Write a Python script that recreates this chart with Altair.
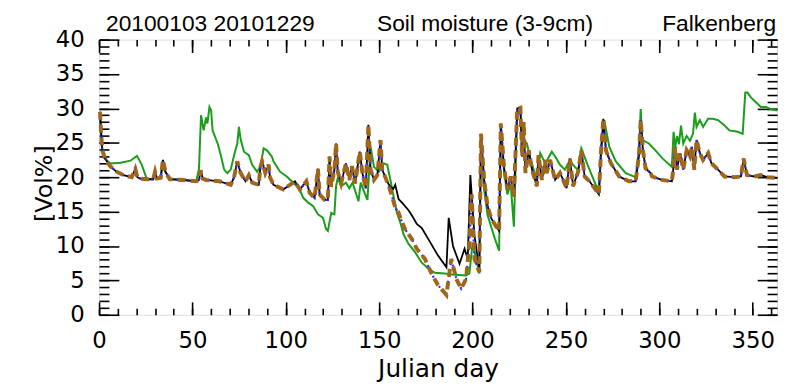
import altair as alt
import pandas as pd

# ---- data ----
common_pre_day = [0.5, 1, 1.7, 3, 4.4, 6, 8, 10, 13, 17.5, 19.4, 20.5, 22, 25.5, 29, 30, 31, 33, 34.2, 35.5,
                  37.9, 45, 52, 53.5, 54.4, 55.5, 57.3, 64.4, 70.5, 72.3, 74, 75.8, 78.4, 80.2, 82, 85.5, 86.4,
                  87.3, 89, 90.8, 91.5, 93.4, 98.7, 102.2, 104.9, 107.5, 111, 112.8, 115.4, 117.2, 118.1, 120.7,
                  122.5, 123.4, 124.3, 126, 126.9, 127.8, 129.6, 132.2, 134, 135.4, 137.1, 139.6, 141, 142.8,
                  144.2, 145.4, 147.2, 149, 150.7, 151.6, 153.4]
common_pre_val = [29.5, 27, 24, 22.8, 22.2, 21.6, 21.1, 20.7, 20.3, 20.0, 21.2, 20.0, 19.8, 19.7, 19.7, 20.8, 19.8,
                  19.9, 22.5, 20.8, 19.7, 19.6, 19.4, 19.6, 21.0, 19.8, 19.6, 19.4, 18.9, 20.0, 22.3, 20.6, 19.4,
                  20.3, 19.2, 18.9, 21.5, 22.3, 20.6, 21.8, 20.0, 18.9, 18.2, 18.9, 19.4, 18.2, 19.4, 17.7, 17.0,
                  21.2, 17.5, 16.7, 16.7, 23.0, 18.6, 21.1, 24.9, 20.8, 19.1, 22.0, 19.6, 21.6, 19.1, 23.7, 20.6,
                  18.4, 27.6, 21.1, 19.6, 20.3, 25.4, 21.1, 19.9]

black_trough_day = [155, 156, 157.5, 158.6, 160.4, 162.2, 165.7, 168, 170.1, 172.8, 176.3, 181.5, 186, 187.2,
                    189.5, 193, 195.7, 197.4, 198.8, 201, 203.6]
black_trough_val = [19.0, 18.6, 18.3, 18.9, 16.8, 16.3, 15.2, 14.2, 13.2, 12.6, 11.0, 8.6, 6.9, 14.1, 10.0, 7.4,
                    9.6, 8.1, 20.3, 11.5, 6.7]

brown_trough_day = [155, 156.9, 158.6, 160.4, 161.3, 163.9, 167.5, 170.1, 174.5, 178, 181.5, 186, 188.6, 191.3,
                    193.9, 196.5, 198.3, 199.5, 201, 203.6]
brown_trough_val = [18.8, 17.2, 15.6, 14.8, 14.1, 12.4, 11.0, 9.6, 8.1, 6.0, 4.3, 2.9, 8.1, 5.2, 3.8, 5.2, 10.5,
                    17.5, 8.1, 6.2]

common_post_day = [204.5, 206.2, 208, 210, 212.4, 214.2, 215.1, 216.8, 218.6, 220.4, 222.1, 223.9, 225.6, 226.5,
                   227.4, 228.3, 230.1, 231.8, 234.4, 235.3, 237.1, 238.9, 239.7, 241.5, 244.2, 246.8, 248.5,
                   250.3, 252.1, 253.8, 256.5, 258.2, 260, 262.6, 265.3, 267.6, 268.8, 270, 271.4, 274.1, 278.5,
                   283.8, 287.3, 289.1, 290, 291.2, 292.6, 295.3, 296.1, 301.4, 306.7, 307.6, 308.5, 309.4, 311.1,
                   312.8, 314.6, 316.4, 317.3, 318.7, 319.9, 321.7, 323.4, 326.1, 327.9, 331.4, 334.9, 340.2,
                   343.7, 345.1, 346.9, 350.8, 354.3, 357.8, 363]
common_post_val = [26.3, 19.6, 15.8, 14.0, 12.9, 12.2, 27.8, 21.5, 18.2, 20.1, 17.2, 30.0, 30.1, 23.0, 28.0, 20.6,
                   23.9, 21.1, 18.7, 23.2, 19.6, 22.5, 20.6, 22.5, 19.6, 20.6, 19.6, 18.4, 22.7, 18.7, 20.8, 23.9,
                   20.1, 19.4, 18.4, 17.5, 23.9, 28.5, 23.9, 22.0, 20.1, 19.4, 19.4, 23.2, 28.3, 23.9, 21.3, 20.6,
                   20.1, 19.6, 19.4, 21.5, 24.4, 21.1, 23.5, 21.1, 23.9, 23.0, 24.4, 21.1, 25.4, 23.5, 22.5, 23.5,
                   22.0, 21.1, 20.1, 20.0, 20.1, 22.7, 20.3, 20.1, 20.3, 20.0, 19.9]

green_day = [0.5, 1, 1.7, 3, 4.4, 6.2, 11.5, 16.8, 20.3, 22.9, 25.2, 25.6, 29, 30, 31, 33, 34.2, 35.5, 37.9, 45,
             52, 53.5, 54.6, 56, 57.3, 58, 59.1, 60, 60.8, 63.5, 65.2, 67, 68.7, 70.5, 72.3, 74, 74.9, 75.8, 77.6,
             80.2, 82, 84.6, 86.4, 88.1, 89.9, 92.5, 93.4, 96.9, 100.5, 104, 107.5, 109.3, 112, 114.6, 117.2,
             119.9, 121.5, 122.5, 124.3, 126, 126.9, 127.8, 129.6, 132.2, 134, 135.7, 137.5, 138.9, 140.1, 141.9,
             143.7, 145.4, 147.2, 149.8, 152.5, 154.3, 156, 157.7, 159.5, 161.3, 163, 165.7, 169.2, 172.7, 176.3,
             179.8, 185.1, 190.4, 196.5, 198.3, 200, 201.9, 203.6, 204.5, 206, 208, 212, 214.2, 215.1, 216.8,
             218.6, 220.4, 222.1, 223.9, 225.6, 226.5, 228, 229.1, 230.9, 234.4, 236.2, 238.9, 242.4, 244.2,
             246.8, 249.4, 252.1, 253.8, 256.5, 258.2, 262, 265, 267.6, 268.8, 270.5, 273.2, 276.7, 282, 287.3,
             289.1, 290, 290.9, 294.4, 297.9, 301.4, 305, 306.7, 307.6, 308.5, 309.5, 310.5, 311.6, 312.8, 314.6,
             316.4, 318, 319, 319.9, 321.7, 323.4, 326.1, 328.5, 331.4, 334.9, 337.5, 342, 344.6, 346, 347.2, 349,
             351.7, 354.3, 357, 359.6, 363]
green_val = [29.5, 27, 24, 22.8, 22.4, 22.0, 22.1, 22.4, 23.1, 21.8, 20.0, 19.7, 19.7, 20.8, 19.8, 19.9, 22.5,
             20.8, 19.7, 19.6, 19.4, 21.2, 29.0, 26.8, 28.7, 27.8, 30.2, 29.7, 26.8, 24.9, 23.2, 21.1, 20.6, 21.1,
             23.2, 24.9, 27.3, 25.5, 23.7, 23.2, 21.8, 20.8, 21.5, 24.2, 23.9, 23.0, 22.3, 20.8, 20.1, 19.2, 18.2,
             17.0, 16.3, 15.8, 14.6, 14.1, 12.5, 12.2, 14.8, 14.6, 18.7, 19.9, 18.7, 19.2, 18.4, 19.2, 17.7, 16.5,
             19.2, 17.9, 16.7, 24.4, 21.5, 20.8, 22.0, 21.8, 19.6, 17.2, 14.8, 13.4, 11.7, 10.3, 9.1, 7.6, 6.7,
             6.1, 6.0, 5.8, 5.7, 6.0, 10.5, 8.1, 6.0, 25.5, 18.5, 14.5, 11.0, 9.3, 27.0, 21.0, 17.5, 19.0, 12.8,
             29.5, 29.8, 24.0, 25.2, 24.9, 22.7, 19.6, 23.5, 22.0, 23.7, 23.0, 21.8, 21.1, 22.5, 21.8, 21.0, 24.2,
             21.5, 19.5, 17.8, 23.9, 28.3, 24.4, 22.3, 20.6, 20.0, 24.0, 29.9, 25.4, 24.9, 23.9, 22.8, 21.9, 21.5,
             26.6, 24.4, 26.0, 24.8, 27.5, 24.9, 26.0, 25.3, 26.3, 29.4, 27.3, 28.3, 27.3, 28.5, 28.5, 28.3, 27.5,
             26.8, 26.6, 26.3, 32.3, 32.3, 31.6, 30.9, 30.2, 30.2, 29.9, 29.7]

header_texts = ["20100103 20101229", "Soil moisture (3-9cm)", "Falkenberg"]
x_title = "Julian day"
y_title = "[Vol%]"
x_major = list(range(0, 351, 50))
x_minor = list(range(0, 361, 10))
y_major = list(range(0, 41, 5))
y_minor = list(range(0, 41, 1))

# ---- tables ----
black_df = pd.DataFrame({"day": common_pre_day + black_trough_day + common_post_day,
                         "v": common_pre_val + black_trough_val + common_post_val})
brown_df = pd.DataFrame({"day": common_pre_day + brown_trough_day + common_post_day,
                         "v": common_pre_val + brown_trough_val + common_post_val})
blue_df = brown_df.copy()
green_df = pd.DataFrame({"day": green_day, "v": green_val})

HFONT = "Liberation Sans"
AFONT = "DejaVu Sans"
W, H = 685, 278
xs = alt.Scale(domain=[0, 363], nice=False, zero=False)
ys = alt.Scale(domain=[0, 40], nice=False, zero=False)


def enc_x(axis):
    return alt.X("day:Q", scale=xs, axis=axis)


def enc_y(axis):
    return alt.Y("v:Q", scale=ys, axis=axis)


lab_x_axis = alt.Axis(orient="bottom", values=x_major, tickSize=0, domain=False, grid=False,
                      labelFlush=False, labelOverlap=False, labelPadding=15, labelFontSize=23,
                      labelFont=AFONT, labelColor="black", format="d",
                      title=x_title, titleFont=AFONT, titleFontSize=25, titleFontWeight="normal",
                      titleColor="black", titleY=62, titleBaseline="alphabetic")
lab_y_axis = alt.Axis(orient="left", values=y_major, tickSize=0, domain=False, grid=False,
                      labelFlush=False, labelOverlap=False, labelPadding=15, labelFontSize=23,
                      labelFont=AFONT, labelColor="black", format="d",
                      title=y_title, titleFont=AFONT, titleFontSize=24, titleFontWeight="normal",
                      titleColor="black", titleX=-48, titleY=145, titleAlign="center",
                      titleBaseline="alphabetic", titleAngle=270)

green = alt.Chart(green_df).mark_line(color="#1a9e1a", strokeWidth=2).encode(
    x=enc_x(lab_x_axis), y=enc_y(lab_y_axis))
black = alt.Chart(black_df).mark_line(color="black", strokeWidth=1.8).encode(
    x=enc_x(None), y=enc_y(None))
blue = alt.Chart(blue_df).mark_line(color="#2828ff", strokeWidth=2.2, strokeDash=[2, 4]).encode(
    x=enc_x(None), y=enc_y(None))
brown = alt.Chart(brown_df).mark_line(color="#a0661a", strokeWidth=4, strokeDash=[8, 5]).encode(
    x=enc_x(None), y=enc_y(None))


def tick_axis(orient, values, size):
    return alt.Axis(orient=orient, values=values, tickSize=size, offset=-size, labels=False,
                    domain=False, grid=False, title=None, tickColor="black", tickWidth=1.6)


tick_layers = []
for xo, yo in [("bottom", "left"), ("top", "right")]:
    tick_layers.append(alt.Chart(black_df).mark_line(opacity=0).encode(
        x=enc_x(tick_axis(xo, x_major, 13)), y=enc_y(tick_axis(yo, y_major, 20))))
    tick_layers.append(alt.Chart(black_df).mark_line(opacity=0).encode(
        x=enc_x(tick_axis(xo, x_minor, 6.5)), y=enc_y(tick_axis(yo, y_minor, 10))))


def header(i, xpos, align):
    return alt.Chart(pd.DataFrame({"t": [header_texts[i]]})).mark_text(
        font=HFONT, fontSize=23, align=align, baseline="alphabetic", color="black"
    ).encode(text="t:N", x=alt.value(xpos), y=alt.value(-9))


chart = alt.layer(
    green, black, blue, brown, *tick_layers,
    header(0, 7, "left"), header(1, 390, "center"), header(2, 684, "right"),
).resolve_axis(x="independent", y="independent").properties(
    width=W, height=H,
    autosize=alt.AutoSizeParams(type="none"),
    padding={"left": 92, "top": 30, "right": 3, "bottom": 66},
).configure_view(stroke="black", strokeWidth=2).configure(background="white")

chart.save("out.html", embed_options={"renderer": "svg", "actions": False})
